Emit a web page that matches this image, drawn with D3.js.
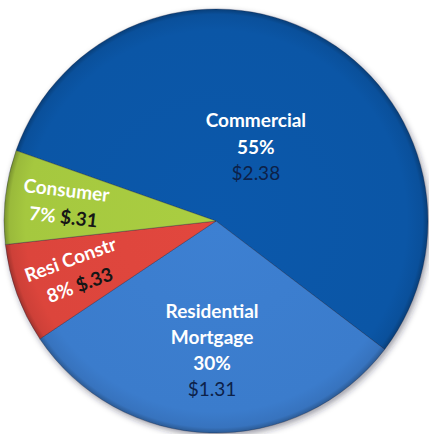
<!DOCTYPE html>
<html>
<head>
<meta charset="utf-8">
<script src="https://cdn.jsdelivr.net/npm/d3@7/dist/d3.min.js"></script>
<style>
  html, body { margin: 0; padding: 0; background: #ffffff; overflow: hidden; }
  svg { display: block; }
</style>
</head>
<body>
<svg id="chart" width="429" height="434"></svg>
<script>
// Loan portfolio by type ($ billions)
const categories = ["Commercial", "Residential Mortgage", "Resi Constr", "Consumer"];
const amounts = [2.38, 1.31, 0.33, 0.31];
const nameLines = [["Commercial"], ["Residential", "Mortgage"], ["Resi Constr"], ["Consumer"]];

const sliceColors = ["#0b56a6", "#3b7ccc", "#dc453c", "#a5c83f"];

const width = 429, height = 434;
const cx = 216, cy = 221, radius = 212;
const deg = Math.PI / 180;
const startAngle = -70.6 * deg;

// Label placement: horizontal blocks for the large slices, radial text for the thin ones.
const labelLayout = {
  "Commercial": { r: 84, rotate: false },
  "Residential Mortgage": { r: 130, rotate: false },
  "Resi Constr": { r: 150, rotate: true },
  "Consumer": { r: 152, rotate: true }
};

const data = categories.map((c, i) => ({ category: c, amount: amounts[i], lines: nameLines[i], color: sliceColors[i] }));
const total = d3.sum(amounts);
const pctFmt = d3.format(".0%");
const moneyFmt = v => "$" + d3.format(".2f")(v).replace(/^0/, "");

const svg = d3.select("#chart");
const defs = svg.append("defs");

// soft shadow under the pie
const blur = defs.append("filter").attr("id", "shadow")
  .attr("x", "-20%").attr("y", "-20%").attr("width", "140%").attr("height", "140%");
blur.append("feGaussianBlur").attr("stdDeviation", 3);

// rim shading: flat face, darker bevel at the outer edge
data.forEach((d, i) => {
  const g = defs.append("radialGradient")
    .attr("id", "grad" + i)
    .attr("gradientUnits", "userSpaceOnUse")
    .attr("cx", 0).attr("cy", 0).attr("r", radius);
  const base = d3.color(d.color);
  g.append("stop").attr("offset", "0%").attr("stop-color", base.brighter(0.08));
  g.append("stop").attr("offset", "90%").attr("stop-color", base);
  g.append("stop").attr("offset", "97.5%").attr("stop-color", base.darker(0.2));
  g.append("stop").attr("offset", "100%").attr("stop-color", base.darker(0.9));
});

const pie = d3.pie()
  .sort(null)
  .value(d => d.amount)
  .startAngle(startAngle)
  .endAngle(startAngle + 2 * Math.PI);

const arcs = pie(data);
const arc = d3.arc().innerRadius(0).outerRadius(radius);

const root = svg.append("g").attr("transform", `translate(${cx},${cy})`);

root.append("circle")
  .attr("cx", 2).attr("cy", 3).attr("r", radius)
  .attr("fill", "rgba(40,40,60,0.45)")
  .attr("filter", "url(#shadow)");

root.selectAll("path.slice")
  .data(arcs)
  .join("path")
  .attr("class", "slice")
  .attr("d", arc)
  .attr("fill", (d, i) => `url(#grad${i})`)
  .attr("stroke", "rgba(20,30,60,0.3)")
  .attr("stroke-width", 1);

// labels
const font = "Lato, 'Liberation Sans', sans-serif";
arcs.forEach(a => {
  const d = a.data;
  const lay = labelLayout[d.category];
  const mid = (a.startAngle + a.endAngle) / 2;
  const labelArc = d3.arc().innerRadius(lay.r).outerRadius(lay.r);
  const [lx, ly] = labelArc.centroid(a);
  const pct = pctFmt(d.amount / total);
  const money = moneyFmt(d.amount);

  if (!lay.rotate) {
    const lines = d.lines.map(t => ({ t, kind: "name" }))
      .concat([{ t: pct, kind: "pct" }, { t: money, kind: "money" }]);
    const lh = lines.length > 3 ? 26 : 26.5;
    const g = root.append("g").attr("transform", `translate(${lx},${ly})`);
    lines.forEach((ln, i) => {
      g.append("text")
        .attr("x", 0)
        .attr("y", (i - (lines.length - 1) / 2) * lh + 6.5)
        .attr("text-anchor", "middle")
        .attr("font-family", font)
        .attr("font-size", 19)
        .attr("font-weight", ln.kind === "money" ? 400 : 700)
        .attr("fill", ln.kind === "money" ? "#0d2148" : "#ffffff")
        .text(ln.t);
    });
  } else {
    const rot = Math.atan2(Math.cos(mid), -Math.sin(mid)) / deg;
    const g = root.append("g").attr("transform", `translate(${lx},${ly}) rotate(${rot})`);
    g.append("text")
      .attr("x", 0).attr("y", -7)
      .attr("text-anchor", "middle")
      .attr("font-family", font)
      .attr("font-size", 19)
      .attr("font-weight", 700)
      .attr("fill", "#ffffff")
      .text(d.lines[0]);
    const t2 = g.append("text")
      .attr("x", 0).attr("y", 20)
      .attr("text-anchor", "middle")
      .attr("font-family", font)
      .attr("font-size", 19)
      .attr("font-weight", 700);
    t2.append("tspan").attr("fill", "#ffffff").text(pct + " ");
    t2.append("tspan").attr("fill", "#161616").text(money);
  }
});
</script>
</body>
</html>
